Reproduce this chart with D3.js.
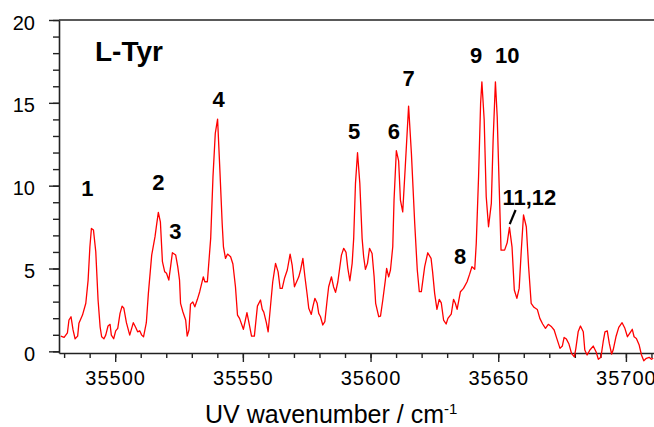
<!DOCTYPE html>
<html>
<head>
<meta charset="utf-8">
<script src="https://cdn.jsdelivr.net/npm/d3@7"></script>
<style>
  body { margin: 0; background: #fff; }
  svg { display: block; }
  text { font-family: "Liberation Sans", Arial, sans-serif; fill: #000; }
</style>
</head>
<body>
<div id="chart"></div>
<script>
// spectrum
var wavenumber = [
  35478.7, 35480.0, 35481.3, 35481.9, 35482.7, 35483.5, 35484.3, 35485.3, 35485.8, 35487.2,
  35488.5, 35489.4, 35490.1, 35490.7, 35491.5, 35492.4, 35493.3, 35494.1, 35494.7, 35495.6,
  35496.3, 35497.2, 35498.0, 35498.5, 35499.4, 35500.2, 35501.0, 35501.9, 35502.7, 35503.4,
  35504.4, 35505.7, 35507.1, 35508.0, 35508.8, 35509.6, 35510.4, 35511.1, 35512.2, 35513.0,
  35514.3, 35515.6, 35516.2, 35516.9, 35517.7, 35518.5, 35519.4, 35520.1, 35521.0, 35521.7,
  35522.4, 35523.7, 35524.5, 35525.2, 35525.6, 35526.5, 35527.6, 35528.2, 35528.9, 35529.5,
  35530.4, 35531.2, 35532.2, 35533.1, 35534.5, 35535.1, 35536.1, 35537.4, 35538.3, 35539.2,
  35540.1, 35541.0, 35541.9, 35542.4, 35543.2, 35544.0, 35545.2, 35546.1, 35547.1, 35547.9,
  35548.7, 35550.2, 35551.6, 35552.3, 35553.4, 35554.5, 35555.7, 35556.9, 35557.6, 35558.2,
  35559.2, 35559.9, 35560.8, 35561.7, 35562.8, 35563.8, 35564.6, 35565.4, 35566.3, 35567.4,
  35568.5, 35569.3, 35570.2, 35571.9, 35572.6, 35573.5, 35574.3, 35575.2, 35575.8, 35576.8,
  35577.4, 35578.2, 35579.1, 35579.7, 35580.4, 35581.3, 35582.1, 35583.0, 35583.6, 35584.7,
  35585.5, 35586.3, 35587.2, 35587.9, 35588.6, 35589.5, 35590.4, 35591.1, 35591.9, 35592.8,
  35593.4, 35594.1, 35594.9, 35595.8, 35596.7, 35597.3, 35598.0, 35598.8, 35599.6, 35600.6,
  35601.4, 35602.0, 35603.2, 35603.9, 35604.8, 35605.8, 35606.3, 35607.1, 35607.8, 35608.7,
  35609.2, 35610.1, 35611.0, 35611.7, 35612.6, 35613.6, 35614.9, 35616.0, 35617.3, 35618.3,
  35619.1, 35619.9, 35621.2, 35622.4, 35623.7, 35624.3, 35625.1, 35626.0, 35626.9, 35627.7,
  35628.6, 35629.6, 35630.3, 35631.6, 35632.5, 35633.2, 35633.9, 35635.2, 35636.4, 35637.8,
  35638.8, 35639.7, 35640.8, 35641.4, 35642.3, 35643.1, 35643.6, 35644.5, 35645.3, 35646.2,
  35647.3, 35648.0, 35648.9, 35649.6, 35650.4, 35651.1, 35652.5, 35653.5, 35654.4, 35655.4,
  35656.3, 35657.3, 35658.2, 35659.0, 35659.9, 35661.0, 35661.9, 35662.9, 35664.0, 35665.3,
  35666.3, 35667.4, 35668.5, 35669.6, 35670.9, 35671.9, 35672.8, 35674.2, 35675.1, 35675.8,
  35676.7, 35677.7, 35678.7, 35679.8, 35680.4, 35681.3, 35682.2, 35683.3, 35683.9, 35684.8,
  35685.9, 35687.2, 35688.3, 35689.2, 35690.2, 35691.1, 35691.8, 35692.7, 35693.5, 35694.4,
  35695.0, 35696.1, 35697.2, 35698.5, 35699.6, 35700.6, 35701.6, 35702.5, 35703.2, 35704.1,
  35705.2, 35706.1, 35707.0, 35708.0, 35709.1, 35710.0, 35710.7
];
var intensity = [
  0.92, 0.84, 1.12, 1.89, 2.09, 1.29, 0.76, 0.92, 1.69, 2.19,
  2.90, 4.30, 6.31, 7.42, 7.32, 6.01, 3.10, 1.48, 0.88, 0.76,
  0.98, 1.53, 1.63, 0.98, 0.76, 1.24, 1.39, 2.29, 2.73, 2.60,
  1.73, 0.98, 1.73, 1.45, 1.18, 1.24, 0.98, 0.88, 1.73, 3.50,
  5.81, 6.92, 7.62, 8.39, 7.82, 5.41, 4.80, 4.71, 4.30, 5.11,
  5.95, 5.81, 5.11, 4.30, 2.90, 2.39, 1.89, 0.92, 1.29, 2.85,
  2.98, 2.69, 3.14, 3.60, 4.50, 4.20, 4.20, 6.82, 10.54, 13.16,
  14.02, 10.94, 7.72, 6.31, 5.61, 5.87, 5.71, 5.27, 3.90, 2.19,
  1.99, 1.33, 2.33, 1.79, 0.92, 0.92, 2.73, 3.10, 2.53, 2.37,
  1.73, 1.18, 2.69, 4.20, 5.31, 4.80, 3.80, 3.80, 4.41, 4.91,
  5.87, 5.21, 3.90, 4.50, 4.91, 5.61, 4.50, 3.40, 2.60, 2.23,
  2.69, 3.20, 2.90, 2.29, 2.09, 1.59, 1.79, 3.10, 3.90, 4.50,
  3.90, 3.56, 4.20, 5.01, 5.81, 6.22, 5.97, 5.01, 4.26, 5.31,
  6.82, 10.14, 11.99, 10.14, 6.82, 5.71, 4.95, 5.31, 6.22, 5.91,
  4.50, 2.90, 2.09, 2.13, 3.10, 4.30, 5.01, 4.50, 4.91, 6.31,
  9.13, 12.11, 11.50, 9.13, 8.42, 11.14, 14.80, 11.95, 7.72, 4.91,
  3.60, 3.60, 5.11, 5.95, 5.61, 4.80, 3.50, 2.53, 3.14, 2.93,
  1.89, 1.65, 1.99, 2.25, 3.14, 2.90, 2.53, 3.60, 3.80, 4.20,
  4.66, 5.11, 4.95, 6.52, 10.54, 14.97, 16.27, 13.96, 9.33, 7.52,
  8.93, 12.75, 16.27, 14.16, 9.84, 6.11, 6.11, 6.55, 7.48, 6.31,
  3.70, 3.20, 3.80, 6.01, 8.23, 7.52, 5.11, 2.90, 2.66, 2.53,
  1.99, 1.65, 1.39, 1.63, 1.48, 1.29, 0.84, 0.18, 0.32, 0.84,
  0.74, 0.44, -0.12, -0.33, 0.18, 1.18, 1.53, 1.18, 0.08, -0.22,
  0.08, 0.32, -0.02, -0.48, -0.36, 0.58, 1.18, 1.24, 0.48, -0.16,
  0.08, 0.88, 1.45, 1.73, 1.39, 0.88, 1.12, 1.33, 0.88, 0.78,
  0.38, -0.22, -0.57, -0.42, -0.36, -0.48, -0.42
];

// band labels (text, wavenumber of centre, intensity of baseline)
var peakLabels = ["1", "2", "3", "4", "5", "6", "7", "8", "9", "10", "11,12"];
var peakLabelX = [35489.1, 35516.9, 35523.6, 35540.5, 35593.6, 35609.1, 35614.9, 35635.1, 35641.3, 35653.5, 35662.2];
var peakLabelY = [9.37, 9.73, 6.76, 14.76, 12.79, 12.79, 16.01, 5.27, 17.42, 17.42, 8.83];
// little pointer under "11,12"
var pointerX = [35654.5, 35656.8];
var pointerY = [7.68, 8.53];

var xMajorTicks = [35500, 35550, 35600, 35650, 35700];
var yMajorTicks = [0, 5, 10, 15, 20];

var width = 654, height = 427;
var plotLeft = 59, plotRight = 654, plotTop = 20, plotBottom = 353;

var svg = d3.select("#chart").append("svg")
    .attr("width", width)
    .attr("height", height);

var x = d3.scaleLinear().domain([35478, 35711]).range([plotLeft, plotRight]);
var y = d3.scaleLinear().domain([-0.1, 20]).range([plotBottom, plotTop]);

//minor ticks first, majors on top
svg.append("g")
    .attr("transform", "translate(0," + plotBottom + ")")
    .call(d3.axisBottom(x).tickValues(d3.range(35480, 35711, 10)).tickSize(5).tickFormat(""))
    .call(function(g){ g.select(".domain").remove(); });

svg.append("g")
    .attr("transform", "translate(" + plotLeft + ",0)")
    .call(d3.axisLeft(y).tickValues(d3.range(0, 20.5, 1)).tickSize(6).tickFormat(""))
    .call(function(g){ g.select(".domain").remove(); });

var xAxis = svg.append("g")
    .attr("class", "x axis")
    .attr("transform", "translate(0," + plotBottom + ")")
    .call(d3.axisBottom(x).tickValues(xMajorTicks).tickSize(9).tickPadding(9).tickSizeOuter(0).tickFormat(d3.format("d")));
xAxis.selectAll("text")
    .style("font-size", "20px")
    .style("letter-spacing", "1px");

var yAxis = svg.append("g")
    .attr("class", "y axis")
    .attr("transform", "translate(" + plotLeft + ",0)")
    .call(d3.axisLeft(y).tickValues(yMajorTicks).tickSize(10).tickPadding(14).tickSizeOuter(0));
yAxis.selectAll("text")
    .attr("dy", "0.45em")
    .style("font-size", "20px");

svg.selectAll(".tick line").attr("stroke", "#222").attr("stroke-width", 1.4);
svg.selectAll(".domain").attr("stroke", "#222").attr("stroke-width", 1.6);

//top frame line
svg.append("line")
    .attr("x1", plotLeft).attr("x2", plotRight)
    .attr("y1", plotTop).attr("y2", plotTop)
    .attr("stroke", "#222")
    .attr("stroke-width", 1.6);

//the spectrum
var line = d3.line()
    .x(function(d, i){ return x(wavenumber[i]); })
    .y(function(d){ return y(d); });

svg.append("path")
    .datum(intensity)
    .attr("fill", "none")
    .attr("stroke", "#ff0000")
    .attr("stroke-width", 1.3)
    .attr("stroke-linejoin", "round")
    .attr("d", line);

//band numbers
svg.append("g").selectAll("text")
    .data(peakLabels)
    .enter()
    .append("text")
    .attr("x", function(d, i){ return x(peakLabelX[i]); })
    .attr("y", function(d, i){ return y(peakLabelY[i]); })
    .attr("text-anchor", "middle")
    .style("font-weight", "bold")
    .style("font-size", "22px")
    .text(function(d){ return d; });

svg.append("line")
    .attr("x1", x(pointerX[0])).attr("y1", y(pointerY[0]))
    .attr("x2", x(pointerX[1])).attr("y2", y(pointerY[1]))
    .attr("stroke", "#000")
    .attr("stroke-width", 2.2);

//sample name
svg.append("text")
    .attr("x", 95)
    .attr("y", 61)
    .style("font-weight", "bold")
    .style("font-size", "28px")
    .text("L-Tyr");

//axis title
var title = svg.append("text")
    .attr("x", 205)
    .attr("y", 423)
    .style("font-size", "25px");
title.append("tspan").text("UV wavenumber / cm");
title.append("tspan")
    .attr("dy", -9)
    .style("font-size", "15px")
    .text("-1");
</script>
</body>
</html>
